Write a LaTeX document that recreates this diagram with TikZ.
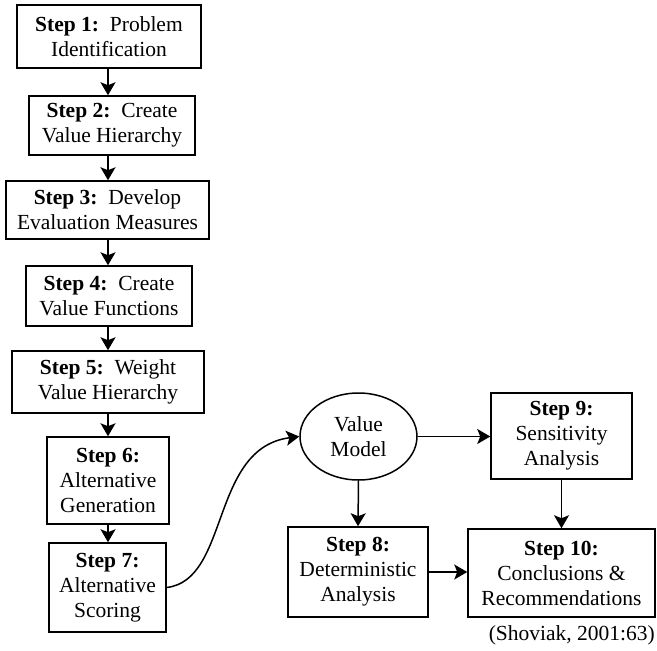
\documentclass[tikz,border=0pt]{standalone}
\usepackage{fontspec}
\setmainfont{Liberation Serif}
\usetikzlibrary{arrows.meta,shapes.geometric}
\begin{document}
\begin{tikzpicture}[x=1pt,y=-1pt,
  every node/.style={font=\fontsize{21.5}{25}\selectfont, align=center, inner sep=0pt},
  stepbox/.style={draw, line width=1.5pt},
  arr/.style={line width=1.5pt, -{Stealth[length=13pt,width=15pt,inset=3pt]}}]
\useasboundingbox (0,0) rectangle (657,651);
\node[stepbox, minimum width=184pt, minimum height=63pt] (b1) at (109,36.5) {\textbf{Step 1:}\ \ Problem\\Identification};
\node[stepbox, minimum width=166pt, minimum height=59pt] (b2) at (112,125.5) {\textbf{Step 2:}\ \ Create\\Value Hierarchy};
\node[stepbox, minimum width=203pt, minimum height=58pt] (b3) at (107.5,210) {\textbf{Step 3:}\ \ Develop\\Evaluation Measures};
\node[stepbox, minimum width=166pt, minimum height=60pt] (b4) at (109,296) {\textbf{Step 4:}\ \ Create\\Value Functions};
\node[stepbox, minimum width=192pt, minimum height=62pt] (b5) at (108,382) {\textbf{Step 5:}\ \ Weight\\Value Hierarchy};
\node[stepbox, minimum width=122pt, minimum height=87pt] (b6) at (108,480.5) {\textbf{Step 6:}\\Alternative\\Generation};
\node[stepbox, minimum width=117pt, minimum height=89pt] (b7) at (107.5,587.5) {\textbf{Step 7:}\\Alternative\\Scoring};
\node[draw, line width=1.5pt, ellipse, minimum width=117pt, minimum height=87pt] (vm) at (358.5,436.5) {Value\\Model};
\node[stepbox, minimum width=141pt, minimum height=86pt] (b9) at (561.5,436) {\textbf{Step 9:}\\Sensitivity\\Analysis};
\node[stepbox, minimum width=140pt, minimum height=90pt] (b8) at (358,572) {\textbf{Step 8:}\\Deterministic\\Analysis};
\node[stepbox, minimum width=187pt, minimum height=88pt] (b10) at (561.5,573) {\textbf{Step 10:}\\Conclusions \&\\Recommendations};
\node[anchor=east] (cap) at (655,635) {(Shoviak, 2001:63)};
\draw[arr] (b1.south -| 108,0) -- (b2.north -| 108,0);
\draw[arr] (b2.south -| 108,0) -- (b3.north -| 108,0);
\draw[arr] (b3.south -| 108,0) -- (b4.north -| 108,0);
\draw[arr] (b4.south -| 108,0) -- (b5.north -| 108,0);
\draw[arr] (b5.south -| 108,0) -- (b6.north -| 108,0);
\draw[arr] (b6.south -| 108,0) -- (b7.north -| 108,0);
\draw[arr] (b7.east) .. controls (230,580) and (210,448) .. (vm.west);
\draw[arr] (vm.east) -- (vm.east -| b9.west);
\draw[arr] (vm.south) -- (b8.north);
\draw[arr] (b9.south) -- (b10.north);
\draw[arr] (b8.east) -- (b8.east -| b10.west);
\end{tikzpicture}
\end{document}
